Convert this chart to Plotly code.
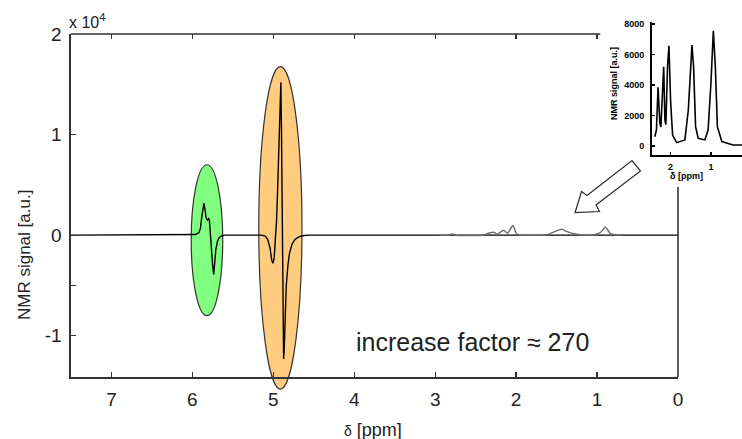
import plotly.graph_objects as go

# ---------------- data ----------------
# main (hyperpolarised) spectrum: chemical shift [ppm] and signal [a.u.]
main_ppm = [7.5, 6.05, 5.96, 5.92, 5.90, 5.885, 5.87, 5.857, 5.845, 5.83, 5.815, 5.80, 5.79, 5.78,
            5.765, 5.75, 5.737, 5.725, 5.71, 5.69, 5.67, 5.64, 5.60,
            5.15, 5.10, 5.07, 5.04, 5.02, 5.005, 4.99, 4.975, 4.96, 4.945, 4.93, 4.915, 4.907, 4.90,
            4.893, 4.886, 4.879, 4.873, 4.866, 4.855, 4.84, 4.82, 4.80, 4.77, 4.73, 4.68, 4.62, 4.55, 0.0]
main_sig = [0, 0, 60, 250, 700, 1800, 2900, 3200, 2600, 1700, 1500, 1650, 1500, 200,
            -1500, -3000, -3900, -2800, -1400, -600, -250, -80, 0,
            0, -100, -400, -1300, -2500, -2800, -2300, -500, 1500, 5000, 10000, 14500, 15200, 11000,
            3000, -6000, -11000, -12300, -11500, -8000, -5000, -3000, -1800, -900, -400, -150, -30, 0, 0]

# thermal spectrum as drawn (grey) in the main panel
gray_ppm = [2.95, 2.84, 2.79, 2.74, 2.42, 2.34, 2.28, 2.23, 2.156, 2.106, 2.04, 1.99, 1.91,
            1.62, 1.495, 1.433, 1.37, 1.25, 1.12, 1.04, 0.96, 0.897, 0.835, 0.71]
gray_sig = [0, 0, 120, 0, 0, 200, 300, 100, 500, 200, 950, 100, 0,
            50, 450, 600, 350, 100, 0, 50, 250, 800, 150, 0]

# inset: thermal spectrum
ins_ppm = [2.39, 2.35, 2.31, 2.265, 2.24, 2.21, 2.17, 2.14, 2.117, 2.075, 2.04, 2.0, 1.95, 1.85,
           1.645, 1.56, 1.50, 1.47, 1.43, 1.38, 1.315, 1.15, 1.07, 1.0, 0.94, 0.89, 0.84, 0.73, 0.45, 0.23]
ins_sig = [610, 1050, 3850, 1500, 1250, 3450, 5200, 1700, 1400, 5200, 6580, 3000, 720, 220,
           400, 2360, 5860, 6625, 5200, 1270, 500, 400, 1050, 4100, 7560, 5200, 1270, 290, 65, 65]

x_tickvals = [7, 6, 5, 4, 3, 2, 1, 0]
y_tickvals = [2, 1, 0, -0.5, -1]
y_ticktext = ['2', '1', '0', '', '-1']
ins_x_tickvals = [2, 1]
ins_y_tickvals = [0, 2000, 4000, 6000, 8000]
SCALE = 1e4

# ---------------- geometry ----------------
W, H = 742, 439
def px_x(p): return p / W
def px_y(p): return 1 - p / H

MAIN_XD = [px_x(71), px_x(678)]
MAIN_YD = [px_y(377), px_y(34)]
XR = [7.5, 0.0]
YR = [-1.41, 2.0]
INS_XD = [px_x(652), 1.0]
INS_YD = [px_y(155), px_y(22)]
INS_XR = [2.46, 0.23]
INS_YR = [-590, 8134]

def xd2p(v): return MAIN_XD[0] + (v - XR[0]) / (XR[1] - XR[0]) * (MAIN_XD[1] - MAIN_XD[0])
def yd2p(v): return MAIN_YD[0] + (v - YR[0]) / (YR[1] - YR[0]) * (MAIN_YD[1] - MAIN_YD[0])

FONT = 'Liberation Sans, Arial, sans-serif'
AX = '#333333'
TXT = '#222222'

fig = go.Figure()
fig.add_trace(go.Scatter(x=main_ppm, y=[s / SCALE for s in main_sig], mode='lines',
                         line=dict(color='black', width=1.4), xaxis='x', yaxis='y', hoverinfo='skip'))
fig.add_trace(go.Scatter(x=gray_ppm, y=[s / SCALE for s in gray_sig], mode='lines',
                         line=dict(color='#6e6e6e', width=1.5, shape='spline', smoothing=0.6),
                         xaxis='x', yaxis='y', hoverinfo='skip'))
fig.add_trace(go.Scatter(x=[], y=[], mode='lines', xaxis='x3', yaxis='y', hoverinfo='skip'))
fig.add_trace(go.Scatter(x=ins_ppm, y=ins_sig, mode='lines',
                         line=dict(color='black', width=1.6), xaxis='x2', yaxis='y2', hoverinfo='skip'))

shapes = []
# green ellipse (5.8 ppm)
shapes.append(dict(type='circle', xref='x', yref='y', x0=6.015, x1=5.625, y0=0.70, y1=-0.80,
                   fillcolor='#80ff80', line=dict(color=AX, width=1.2), layer='below'))
# orange ellipse (4.9 ppm) - extends below axis, so paper refs
shapes.append(dict(type='circle', xref='paper', yref='paper',
                   x0=xd2p(4.913 + 0.267), x1=xd2p(4.913 - 0.267), y0=yd2p(1.676), y1=yd2p(-1.53),
                   fillcolor='#ffcc80', line=dict(color=AX, width=1.2), layer='below'))
# partial top and right spines
shapes.append(dict(type='line', xref='paper', yref='paper', x0=MAIN_XD[0], x1=xd2p(0.96),
                   y0=MAIN_YD[1], y1=MAIN_YD[1], line=dict(color=AX, width=1.6)))
shapes.append(dict(type='line', xref='paper', yref='paper', x0=MAIN_XD[1], x1=MAIN_XD[1],
                   y0=MAIN_YD[0], y1=yd2p(0.48), line=dict(color=AX, width=1.6)))
# hollow arrow
arrow_px = [(575, 212.7), (581.5, 191.5), (587, 195.5), (632, 160.5), (640.5, 171),
            (596, 205), (599.5, 211.5)]
path = 'M ' + ' L '.join(f'{px_x(a):.5f},{px_y(b):.5f}' for a, b in arrow_px) + ' Z'
shapes.append(dict(type='path', xref='paper', yref='paper', path=path, fillcolor='white',
                   line=dict(color='#2a2a2a', width=1.2)))

annotations = [
    dict(text='x 10<sup>4</sup>', x=px_x(67), y=px_y(21), xanchor='left', yanchor='middle',
         font=dict(size=16, color=TXT)),
    dict(text='NMR signal [a.u.]', x=px_x(24), y=px_y(255), textangle=-90,
         xanchor='center', yanchor='middle', font=dict(size=17, color=TXT)),
    dict(text="<span style='font-size:14px'>δ</span> [ppm]", x=px_x(373), y=px_y(430),
         xanchor='center', yanchor='middle', font=dict(size=18, color=TXT)),
    dict(text='increase factor ≈ 270', x=px_x(473), y=px_y(342), xanchor='center', yanchor='middle',
         font=dict(size=25, color=TXT)),
    dict(text='<b>NMR signal [a.u.]</b>', x=px_x(614), y=px_y(84), textangle=-90,
         xanchor='center', yanchor='middle', font=dict(size=9, color='black')),
    dict(text='<b>δ [ppm]</b>', x=px_x(686), y=px_y(176), xanchor='center', yanchor='middle',
         font=dict(size=9, color='black')),
]
for a in annotations:
    a.update(xref='paper', yref='paper', showarrow=False, font=dict(family=FONT, **a['font']))

common = dict(showgrid=False, zeroline=False, automargin=False)
fig.update_layout(
    template='none', width=W, height=H, margin=dict(l=0, r=0, t=0, b=0),
    paper_bgcolor='white', plot_bgcolor='rgba(0,0,0,0)', showlegend=False,
    font=dict(family=FONT, color=TXT),
    xaxis=dict(domain=MAIN_XD, range=XR, anchor='y', tickvals=x_tickvals,
               ticktext=[str(v) for v in x_tickvals], ticks='inside', ticklen=5, tickwidth=1.3,
               tickcolor=AX, showline=True, linecolor=AX, linewidth=1.6,
               tickfont=dict(size=19, color=TXT), ticklabelstandoff=5, **common),
    xaxis3=dict(overlaying='x', side='top', anchor='y', range=XR, tickvals=[7, 6, 5, 4, 3, 2, 1],
                showticklabels=False, ticks='inside', ticklen=5, tickwidth=1.3, tickcolor=AX,
                showline=False, **common),
    yaxis=dict(domain=MAIN_YD, range=YR, anchor='x', tickvals=y_tickvals, ticktext=y_ticktext,
               ticks='inside', ticklen=5, tickwidth=1.3, tickcolor=AX, showline=True,
               linecolor=AX, linewidth=1.6, tickfont=dict(size=19, color=TXT),
               ticklabelstandoff=4, **common),
    xaxis2=dict(domain=INS_XD, range=INS_XR, anchor='y2', tickvals=ins_x_tickvals,
                ticks='inside', ticklen=3, tickwidth=1.5, tickcolor='black', showline=True,
                linecolor='black', linewidth=2, tickfont=dict(size=9, color='black', weight='bold'),
                ticklabelstandoff=2, **common),
    yaxis2=dict(domain=INS_YD, range=INS_YR, anchor='x2', tickvals=ins_y_tickvals,
                ticks='inside', ticklen=3, tickwidth=1.5, tickcolor='black', showline=True,
                linecolor='black', linewidth=2, tickfont=dict(size=9, color='black', weight='bold'),
                ticklabelstandoff=4, **common),
    shapes=shapes, annotations=annotations,
)
fig.write_html('out.html', config={'displayModeBar': False, 'staticPlot': True},
               post_script="document.body.style.margin='0';document.body.style.overflow='hidden';")
